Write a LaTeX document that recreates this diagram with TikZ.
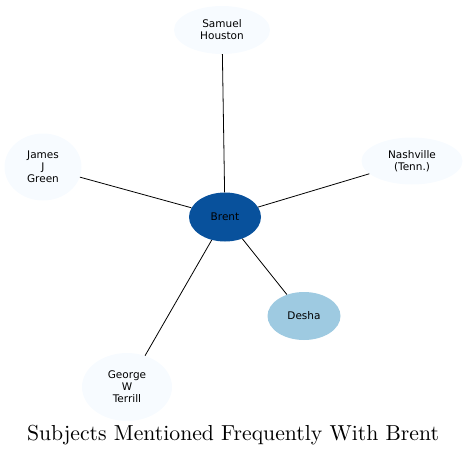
\documentclass[tikz,border=0pt]{standalone}
\usepackage{fontspec}
\newfontfamily\labelfont{DejaVu Sans}
\newfontfamily\titlefont[Extension=.otf]{lmroman10-regular}
\usepackage{tikz}
\usetikzlibrary{shapes.geometric}
\definecolor{Pale}{HTML}{F7FBFF}
\definecolor{Deep}{HTML}{08519C}
\definecolor{Sky}{HTML}{9ECAE1}
\tikzset{
  subject/.style={ellipse,inner sep=0pt,draw=none,fill=Pale,align=center,
    font=\labelfont\fontsize{10.5}{12}\selectfont},
  link/.style={draw=black,line width=0.8pt},
}
\begin{document}
\begin{tikzpicture}[x=1pt,y=-1pt]
  \useasboundingbox (0,0) rectangle (469,456);
  \node[subject,minimum width=72pt,minimum height=49pt,fill=Deep] (brent) at (225,217) {Brent};
  \node[subject,minimum width=96pt,minimum height=48pt] (houston) at (222,30) {Samuel\\Houston};
  \node[subject,minimum width=77pt,minimum height=67pt] (green) at (43,167) {James\\J\\Green};
  \node[subject,minimum width=101pt,minimum height=47pt] (nashville) at (412,161) {Nashville\\(Tenn.)};
  \node[subject,minimum width=73pt,minimum height=48pt,fill=Sky] (desha) at (304,316) {Desha};
  \node[subject,minimum width=90pt,minimum height=68pt] (terrill) at (127,387) {George\\W\\Terrill};
  \draw[link] (brent) -- (houston);
  \draw[link] (brent) -- (green);
  \draw[link] (brent) -- (nashville);
  \draw[link] (brent) -- (desha);
  \draw[link] (brent) -- (terrill);
  \node[font=\titlefont\fontsize{21.7}{26}\selectfont] (title) at (233,435) {Subjects Mentioned Frequently With Brent};
\end{tikzpicture}
\end{document}
